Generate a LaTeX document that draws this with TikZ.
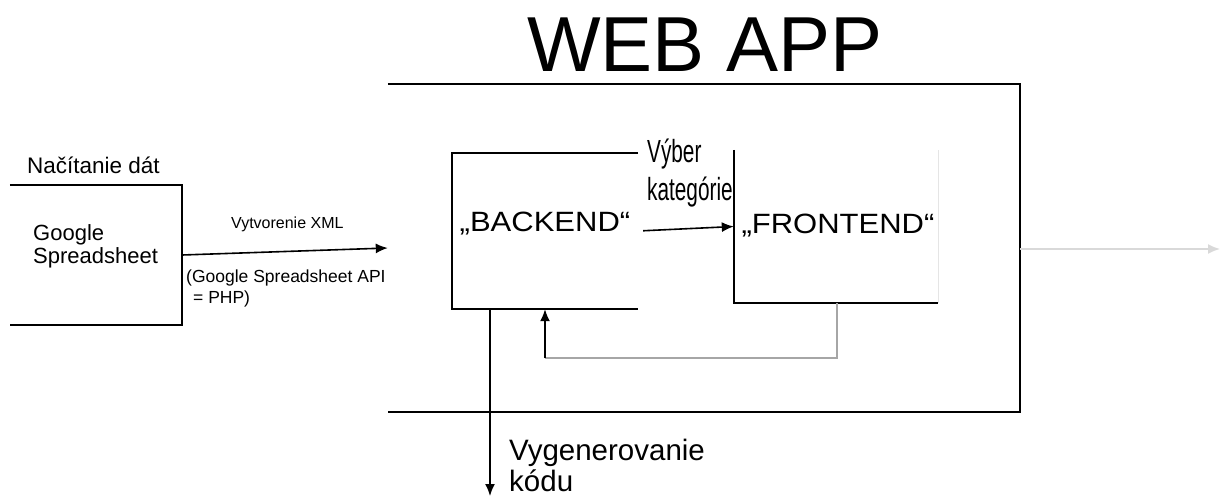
\documentclass[tikz,border=0pt]{standalone}
\usepackage{fontspec}
\setmainfont{Liberation Sans}
\usetikzlibrary{arrows, arrows.meta}

\begin{document}
\begin{tikzpicture}[x=1pt,y=-1pt,
    box/.style={inner sep=0pt},
    txt/.style={inner sep=0pt, align=left, anchor=base west},
    edge/.style={line width=1.6pt},
    tip/.style={-{Latex[length=12pt,width=10pt]}}]
    \useasboundingbox (0,0) rectangle (1221,497);
    % title
    \node[inner sep=0pt, anchor=base, font=\fontsize{78}{80}\selectfont] (title) at (705,72) {WEB APP};
    % boxes
    \node[box, minimum width=632pt, minimum height=328pt] (webapp) at (704,248) {};
    \node[box, minimum width=172pt, minimum height=140pt] (google) at (96,255) {};
    \node[box, minimum width=186pt, minimum height=156pt] (backend) at (545,231) {};
    \node[box, minimum width=204pt, minimum height=153pt] (frontend) at (836,226.5) {};
    \draw[edge] (webapp.north west) -- (webapp.north east) -- (webapp.south east) -- (webapp.south west);
    \draw[edge] (google.north west) -- (google.north east) -- (google.south east) -- (google.south west);
    \draw[edge] (backend.north east) -- (backend.north west) -- (backend.south west) -- (backend.south east);
    \draw[edge] (frontend.north west) -- (frontend.south west) -- (frontend.south east);
    \draw[line width=0.6pt, black!10] (frontend.south east) -- (frontend.north east);
    % texts (base = last line)
    \node[txt, font=\fontsize{22.5}{24}\selectfont] (load) at (27,174) {Načítanie dát};
    \node[txt, font=\fontsize{22}{23}\selectfont] (gtext) at (33,263) {Google\\Spreadsheet};
    \node[inner sep=0pt, font=\fontsize{31}{33}\selectfont, yscale=0.9] (btext) at ([yshift=7pt]backend.center) {„BACKEND“};
    \node[inner sep=0pt, font=\fontsize{31}{33}\selectfont, yscale=0.9] (ftext) at ([xshift=2pt,yshift=1pt]frontend.center) {„FRONTEND“};
    \node[txt, font=\fontsize{16}{18}\selectfont] (xml) at (231,229) {Vytvorenie XML};
    \node[txt, font=\fontsize{17.5}{21}\selectfont] (api) at (186,303) {(Google Spreadsheet API\\\hspace*{7pt}= PHP)};
    \node[txt, font=\fontsize{32}{39}\selectfont, xscale=0.65] (cat) at (647,201) {Výber\\kategórie};
    \node[txt, font=\fontsize{29.5}{31}\selectfont] (code) at (509,491) {Vygenerovanie\\kódu};
    % connectors
    \coordinate (fb1) at (837,358);
    \coordinate (fb2) at (545,358);
    \coordinate (out) at (490,496);
    \coordinate (right) at (1220,249);
    \draw[edge, tip] (google.east) -- (webapp.west);
    \draw[edge, tip, shorten <=5pt] (backend.east) -- (frontend.west);
    \draw[edge, black!35] (frontend.south -| fb1) -- (fb1) -- (fb2);
    \draw[edge, tip] (fb2) -- (backend.south -| fb2);
    \draw[edge, tip] (backend.south -| out) -- (out);
    \draw[edge, black!15] (webapp.east |- right) -- ([xshift=-10pt]right);
    \draw[edge, tip, black!15] ([xshift=-12pt]right) -- (right);
\end{tikzpicture}
\end{document}
